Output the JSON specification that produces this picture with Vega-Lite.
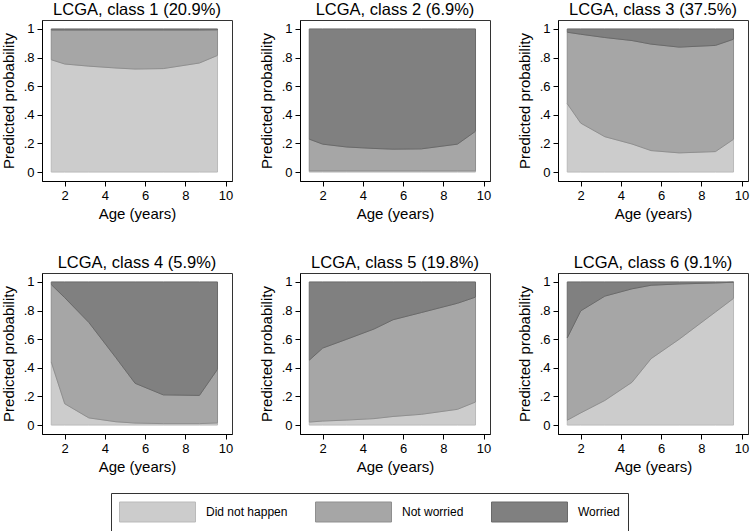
{
  "$schema": "https://vega.github.io/schema/vega-lite/v6.json",
  "background": "white",
  "padding": {"left": 0, "top": 1, "right": 0, "bottom": 0},
  "data": {"values": [
    {"panel": "LCGA, class 1 (20.9%)", "age": 1.33, "Did not happen": 0.785, "Not worried": 0.208, "Worried": 0.007},
    {"panel": "LCGA, class 1 (20.9%)", "age": 2.0, "Did not happen": 0.755, "Not worried": 0.238, "Worried": 0.007},
    {"panel": "LCGA, class 1 (20.9%)", "age": 3.2, "Did not happen": 0.74, "Not worried": 0.253, "Worried": 0.007},
    {"panel": "LCGA, class 1 (20.9%)", "age": 4.55, "Did not happen": 0.727, "Not worried": 0.266, "Worried": 0.007},
    {"panel": "LCGA, class 1 (20.9%)", "age": 5.5, "Did not happen": 0.72, "Not worried": 0.273, "Worried": 0.007},
    {"panel": "LCGA, class 1 (20.9%)", "age": 6.9, "Did not happen": 0.723, "Not worried": 0.27, "Worried": 0.007},
    {"panel": "LCGA, class 1 (20.9%)", "age": 8.7, "Did not happen": 0.762, "Not worried": 0.231, "Worried": 0.007},
    {"panel": "LCGA, class 1 (20.9%)", "age": 9.6, "Did not happen": 0.815, "Not worried": 0.179, "Worried": 0.006},
    {"panel": "LCGA, class 2 (6.9%)", "age": 1.33, "Did not happen": 0.008, "Not worried": 0.222, "Worried": 0.77},
    {"panel": "LCGA, class 2 (6.9%)", "age": 2.0, "Did not happen": 0.008, "Not worried": 0.187, "Worried": 0.805},
    {"panel": "LCGA, class 2 (6.9%)", "age": 3.2, "Did not happen": 0.008, "Not worried": 0.167, "Worried": 0.825},
    {"panel": "LCGA, class 2 (6.9%)", "age": 4.55, "Did not happen": 0.008, "Not worried": 0.157, "Worried": 0.835},
    {"panel": "LCGA, class 2 (6.9%)", "age": 5.5, "Did not happen": 0.008, "Not worried": 0.152, "Worried": 0.84},
    {"panel": "LCGA, class 2 (6.9%)", "age": 6.9, "Did not happen": 0.008, "Not worried": 0.154, "Worried": 0.838},
    {"panel": "LCGA, class 2 (6.9%)", "age": 8.7, "Did not happen": 0.008, "Not worried": 0.187, "Worried": 0.805},
    {"panel": "LCGA, class 2 (6.9%)", "age": 9.6, "Did not happen": 0.008, "Not worried": 0.277, "Worried": 0.715},
    {"panel": "LCGA, class 3 (37.5%)", "age": 1.33, "Did not happen": 0.478, "Not worried": 0.499, "Worried": 0.023},
    {"panel": "LCGA, class 3 (37.5%)", "age": 2.0, "Did not happen": 0.342, "Not worried": 0.621, "Worried": 0.037},
    {"panel": "LCGA, class 3 (37.5%)", "age": 3.2, "Did not happen": 0.247, "Not worried": 0.693, "Worried": 0.06},
    {"panel": "LCGA, class 3 (37.5%)", "age": 4.55, "Did not happen": 0.196, "Not worried": 0.723, "Worried": 0.081},
    {"panel": "LCGA, class 3 (37.5%)", "age": 5.5, "Did not happen": 0.15, "Not worried": 0.744, "Worried": 0.106},
    {"panel": "LCGA, class 3 (37.5%)", "age": 6.9, "Did not happen": 0.134, "Not worried": 0.739, "Worried": 0.127},
    {"panel": "LCGA, class 3 (37.5%)", "age": 8.7, "Did not happen": 0.143, "Not worried": 0.742, "Worried": 0.115},
    {"panel": "LCGA, class 3 (37.5%)", "age": 9.6, "Did not happen": 0.229, "Not worried": 0.699, "Worried": 0.072},
    {"panel": "LCGA, class 4 (5.9%)", "age": 1.33, "Did not happen": 0.441, "Not worried": 0.541, "Worried": 0.018},
    {"panel": "LCGA, class 4 (5.9%)", "age": 2.0, "Did not happen": 0.149, "Not worried": 0.741, "Worried": 0.11},
    {"panel": "LCGA, class 4 (5.9%)", "age": 3.2, "Did not happen": 0.05, "Not worried": 0.667, "Worried": 0.283},
    {"panel": "LCGA, class 4 (5.9%)", "age": 4.55, "Did not happen": 0.023, "Not worried": 0.447, "Worried": 0.53},
    {"panel": "LCGA, class 4 (5.9%)", "age": 5.5, "Did not happen": 0.014, "Not worried": 0.278, "Worried": 0.708},
    {"panel": "LCGA, class 4 (5.9%)", "age": 6.9, "Did not happen": 0.01, "Not worried": 0.201, "Worried": 0.789},
    {"panel": "LCGA, class 4 (5.9%)", "age": 8.7, "Did not happen": 0.01, "Not worried": 0.197, "Worried": 0.793},
    {"panel": "LCGA, class 4 (5.9%)", "age": 9.6, "Did not happen": 0.015, "Not worried": 0.375, "Worried": 0.61},
    {"panel": "LCGA, class 5 (19.8%)", "age": 1.33, "Did not happen": 0.021, "Not worried": 0.432, "Worried": 0.547},
    {"panel": "LCGA, class 5 (19.8%)", "age": 2.0, "Did not happen": 0.028, "Not worried": 0.51, "Worried": 0.462},
    {"panel": "LCGA, class 5 (19.8%)", "age": 3.2, "Did not happen": 0.035, "Not worried": 0.565, "Worried": 0.4},
    {"panel": "LCGA, class 5 (19.8%)", "age": 4.55, "Did not happen": 0.045, "Not worried": 0.626, "Worried": 0.329},
    {"panel": "LCGA, class 5 (19.8%)", "age": 5.5, "Did not happen": 0.06, "Not worried": 0.676, "Worried": 0.264},
    {"panel": "LCGA, class 5 (19.8%)", "age": 6.9, "Did not happen": 0.075, "Not worried": 0.711, "Worried": 0.214},
    {"panel": "LCGA, class 5 (19.8%)", "age": 8.7, "Did not happen": 0.11, "Not worried": 0.741, "Worried": 0.149},
    {"panel": "LCGA, class 5 (19.8%)", "age": 9.6, "Did not happen": 0.161, "Not worried": 0.733, "Worried": 0.106},
    {"panel": "LCGA, class 6 (9.1%)", "age": 1.33, "Did not happen": 0.034, "Not worried": 0.575, "Worried": 0.391},
    {"panel": "LCGA, class 6 (9.1%)", "age": 2.0, "Did not happen": 0.085, "Not worried": 0.713, "Worried": 0.202},
    {"panel": "LCGA, class 6 (9.1%)", "age": 3.2, "Did not happen": 0.172, "Not worried": 0.729, "Worried": 0.099},
    {"panel": "LCGA, class 6 (9.1%)", "age": 4.55, "Did not happen": 0.299, "Not worried": 0.653, "Worried": 0.048},
    {"panel": "LCGA, class 6 (9.1%)", "age": 5.5, "Did not happen": 0.464, "Not worried": 0.513, "Worried": 0.023},
    {"panel": "LCGA, class 6 (9.1%)", "age": 6.9, "Did not happen": 0.6, "Not worried": 0.386, "Worried": 0.014},
    {"panel": "LCGA, class 6 (9.1%)", "age": 8.7, "Did not happen": 0.79, "Not worried": 0.203, "Worried": 0.007},
    {"panel": "LCGA, class 6 (9.1%)", "age": 9.6, "Did not happen": 0.885, "Not worried": 0.113, "Worried": 0.002}
  ]},
  "transform": [
    {"fold": ["Did not happen", "Not worried", "Worried"], "as": ["category", "prob"]}
  ],
  "facet": {
    "field": "panel",
    "type": "nominal",
    "header": {"title": null, "labelFontSize": 16.5, "labelFont": "Liberation Sans", "labelColor": "#000", "labelPadding": 2}
  },
  "columns": 3,
  "spacing": {"column": 24, "row": 32},
  "resolve": {"axis": {"x": "independent", "y": "independent"}},
  "spec": {
    "width": 190,
    "height": 161,
    "mark": {"type": "area", "strokeWidth": 1, "fillOpacity": 1, "interpolate": "linear"},
    "encoding": {
      "x": {
        "field": "age", "type": "quantitative",
        "scale": {"domain": [0.87, 10.32], "nice": false, "zero": false},
        "axis": {"title": "Age (years)", "values": [2, 4, 6, 8, 10]}
      },
      "y": {
        "field": "prob", "type": "quantitative", "stack": "zero",
        "scale": {"domain": [-0.0625, 1.0625], "nice": false},
        "axis": {
          "title": "Predicted probability",
          "values": [0, 0.2, 0.4, 0.6, 0.8, 1],
          "labelExpr": "datum.value == 0 ? '0' : datum.value == 1 ? '1' : replace(format(datum.value, '.1f'), '0.', '.')"
        }
      },
      "order": {"field": "category", "sort": "ascending"},
      "fill": {
        "field": "category", "type": "nominal",
        "scale": {"domain": ["Did not happen", "Not worried", "Worried"], "range": ["#cccccc", "#a6a6a6", "#808080"]},
        "legend": {
          "title": null,
          "orient": "none",
          "legendX": 69,
          "legendY": 473,
          "direction": "horizontal",
          "columns": 3,
          "symbolType": "M-1,-0.263H1V0.263H-1Z",
          "symbolSize": 5776,
          "clipHeight": 22,
          "labelFontSize": 12,
          "labelFont": "Liberation Sans",
          "labelColor": "#000",
          "labelOffset": 10,
          "columnPadding": 27,
          "padding": 8,
          "strokeColor": "#333",
          "symbolStrokeColor": "#aaaaaa",
          "symbolStrokeWidth": 1,
          "symbolOpacity": 1
        }
      },
      "stroke": {
        "field": "category", "type": "nominal",
        "scale": {"domain": ["Did not happen", "Not worried", "Worried"], "range": ["#bababa", "#8f8f8f", "#6a6a6a"]},
        "legend": null
      }
    }
  },
  "config": {
    "view": {"stroke": "#333", "strokeWidth": 1},
    "axis": {
      "grid": false,
      "domainColor": "#000",
      "tickColor": "#000",
      "labelColor": "#000",
      "titleColor": "#000",
      "labelFont": "Liberation Sans",
      "titleFont": "Liberation Sans",
      "labelFontSize": 13,
      "titleFontSize": 15,
      "titleFontWeight": "normal",
      "tickSize": 5,
      "labelPadding": 3,
      "labelFlush": false,
      "labelOverlap": false
    },
    "axisY": {"labelAngle": 0, "titlePadding": 7},
    "axisX": {"titlePadding": 4}
  }
}
